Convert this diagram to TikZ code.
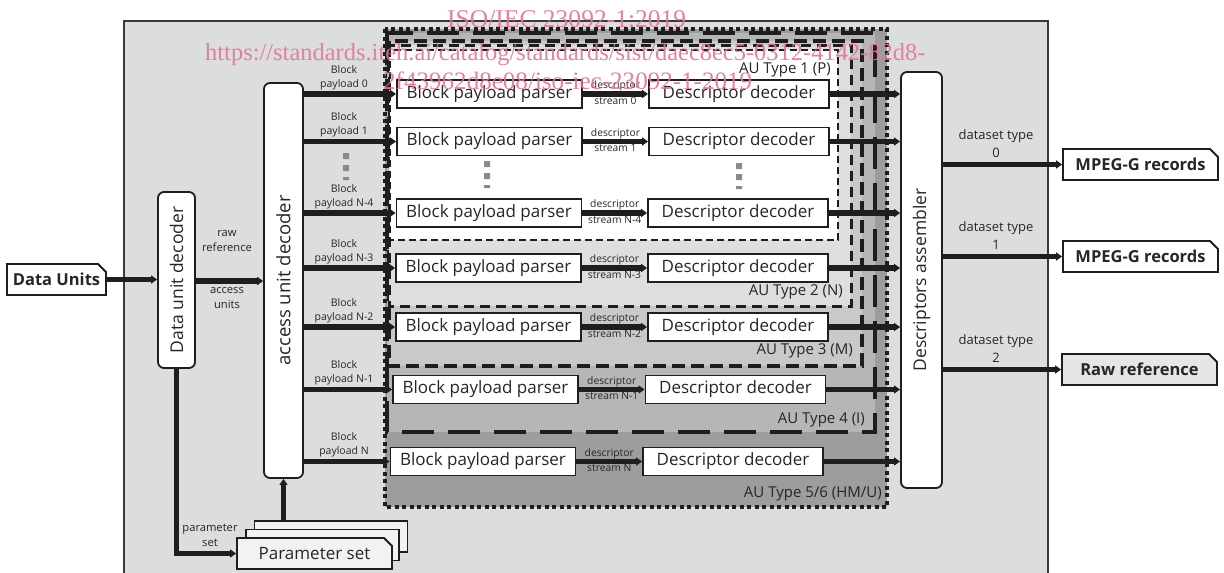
\documentclass[tikz,border=0pt]{standalone}
\usepackage{fontspec}
\setsansfont{Open Sans}
\newfontfamily\wmfont{Liberation Serif}
\usetikzlibrary{arrows.meta,shapes.misc,calc}
\definecolor{bg}{HTML}{DCDDDF}
\definecolor{frame}{HTML}{3A3A3A}
\definecolor{g56}{HTML}{9D9D9D}
\definecolor{g4}{HTML}{B6B6B6}
\definecolor{g3}{HTML}{C9C9C9}
\definecolor{g2}{HTML}{DEDEDE}
\definecolor{dotg}{HTML}{8A8A8A}
\definecolor{ink}{HTML}{1E1E1E}
\definecolor{txt}{HTML}{262626}
\definecolor{wm}{HTML}{E37594}
\definecolor{psfill}{HTML}{F2F2F2}
\definecolor{rawfill}{HTML}{E6E6E6}
\begin{document}
\begin{tikzpicture}[x=1pt,y=-1pt,
  every node/.style={font=\sffamily, text=txt},
  blk/.style={draw=ink, line width=1.8pt, fill=white, minimum height=28pt, inner sep=0pt,
    font=\sffamily\fontsize{17}{20}\selectfont},
  vbox/.style={draw=ink, line width=1.8pt, fill=white, rounded corners=6pt, inner sep=0pt},
  vtxt/.style={rotate=90, inner sep=0pt, font=\sffamily\fontsize{17.5}{20}\selectfont},
  docbox/.style={chamfered rectangle, chamfered rectangle corners=north east,
    chamfered rectangle xsep=4pt, chamfered rectangle ysep=4pt,
    draw=ink, line width=1.8pt, inner sep=0pt, minimum height=31pt},
  bigbold/.style={font=\sffamily\bfseries\fontsize{16.5}{20}\selectfont},
  fat/.style={draw=ink, line width=5.5pt, -{Triangle[length=6pt,width=8pt]}},
  bpl/.style={align=center, inner sep=0.5pt, font=\sffamily\fontsize{10.5}{14}\selectfont},
  dsl/.style={inner sep=0pt, font=\sffamily\fontsize{10.3}{12}\selectfont},
  midl/.style={align=center, inner sep=0pt, font=\sffamily\fontsize{11.2}{15}\selectfont},
  dtl/.style={align=center, inner sep=0pt, font=\sffamily\fontsize{13}{18}\selectfont},
  aul/.style={anchor=east, inner sep=0pt, font=\sffamily\fontsize{15}{18}\selectfont},
  wmt/.style={anchor=base west, inner sep=0pt, text=wm, opacity=0.9},
  r56/.style={fill=g56, draw=ink, line width=4pt, dash pattern=on 4pt off 3.5pt},
  r4/.style={fill=g4, draw=ink, line width=4.5pt, dash pattern=on 32pt off 14pt},
  r3/.style={fill=g3, draw=ink, line width=3.8pt, dash pattern=on 13pt off 6pt},
  r2/.style={fill=g2, draw=ink, line width=3pt, dash pattern=on 10pt off 6pt},
  r1/.style={fill=white, draw=ink, line width=2pt, dash pattern=on 7pt off 4pt},
  gdot/.style={fill=dotg}
]
\useasboundingbox (0,0) rectangle (1224,573);
\fill[white] (0,0) rectangle (1224,573);
\draw[draw=frame, line width=1.6pt, fill=bg] (124,21) rectangle (1048,580);

% nested AU type regions
\draw[r56] (385,29) rectangle (887,507);
\draw[r4] (387,33) rectangle (875,432);
\draw[r3] (389,41) rectangle (862,366);
\draw[r2] (389,45) rectangle (851,306);
\draw[r1] (390,50) rectangle (838,240);

\node[aul] (l1) at (831,70) {AU Type 1 (P)};
\node[aul] (l2) at (843,292) {AU Type 2 (N)};
\node[aul] (l3) at (853,351) {AU Type 3 (M)};
\node[aul] (l4) at (865,420) {AU Type 4 (I)};
\node[aul] (l5) at (882,494) {AU Type 5/6 (HM/U)};

% main blocks
\node[docbox, fill=white, minimum width=99pt, bigbold] (du) at (56.5,279.5) {Data Units};
\node[vbox, minimum width=37pt, minimum height=176pt] (dud) at (176.5,280) {};
\node[vtxt] (dudt) at (dud.center) {Data unit decoder};
\node[vbox, minimum width=39pt, minimum height=395pt] (aud) at (283.5,280.5) {};
\node[vtxt, font=\sffamily\fontsize{18.5}{20}\selectfont] (audt) at (aud.center) {access unit decoder};
\node[vbox, minimum width=41pt, minimum height=416pt] (asm) at (921.5,280) {};
\node[vtxt] (asmt) at (asm.center) {Descriptors assembler};

\node[docbox, fill=white, minimum width=155pt, bigbold] (mp1) at (1140.5,164.5) {MPEG-G records};
\node[docbox, fill=white, minimum width=155pt, bigbold] (mp2) at (1140.5,256.5) {MPEG-G records};
\node[docbox, fill=rawfill, minimum width=155pt, bigbold] (raw) at (1139.5,369.5) {Raw reference};

% parameter set stack
\node[docbox, fill=psfill, minimum width=153pt] (ps3) at (331,536.5) {};
\node[docbox, fill=psfill, minimum width=153pt] (ps2) at (322.5,545) {};
\node[docbox, fill=psfill, minimum width=155pt, font=\sffamily\fontsize{17}{20}\selectfont] (ps1) at (314.5,553.5) {Parameter set};

% rows
\foreach \i/\y/\bx/\dx/\lab in {0/94/489.5/739/0, 1/141.5/489.5/739/1, 2/213/489/738/N-4,
    3/268/488.5/738/N-3, 4/327/488.5/738/N-2, 5/389.5/485.5/735.5/N-1, 6/461.5/483/733/N}{
  \node[blk, minimum width=185pt] (bpp\i) at (\bx,\y) {Block payload parser};
  \node[blk, minimum width=180pt] (dd\i) at (\dx,\y) {Descriptor decoder};
  \draw[fat] (aud.east |- bpp\i.west) -- (bpp\i.west);
  \draw[fat] (bpp\i.east) -- (dd\i.west);
  \draw[fat] (dd\i.east) -- (dd\i.east -| asm.west);
  \node[bpl, anchor=south] (bl\i) at (344,\y-3.5) {Block\\payload \lab};
  \coordinate (m\i) at ($(bpp\i.east)!0.5!(dd\i.west)$);
  \node[dsl, anchor=south] (dsa\i) at ($(m\i)+(0,-2.5)$) {descriptor};
  \node[dsl, anchor=north] (dsb\i) at ($(m\i)+(0,2.5)$) {stream \lab};
}

% continuation dots
\fill[gdot] (343,153) rectangle (349,159) (343,165) rectangle (349,171) (343,177) rectangle (349,180);
\fill[gdot] (484,161) rectangle (490,167) (484,173) rectangle (490,179) (484,185) rectangle (490,188);
\fill[gdot] (736,163) rectangle (742,169) (736,174) rectangle (742,180) (736,186) rectangle (742,189);

% left connectors
\draw[fat] (du.east) -- (du.east -| dud.west);
\draw[fat] (dud.east |- 0,281) -- (aud.west |- 0,281);
\node[midl] (rawref) at (227,241) {raw\\reference};
\node[midl] (accu) at (227,298) {access\\units};
\draw[fat] (dud.south) |- (ps1.west);
\node[midl] (psl) at (210,535.5) {parameter\\set};
\draw[fat] (aud.south |- ps3.north) -- (aud.south);

% right connectors
\draw[fat] (asm.east |- mp1.west) -- (mp1.west);
\draw[fat] (asm.east |- mp2.west) -- (mp2.west);
\draw[fat] (asm.east |- raw.west) -- (raw.west);
\node[dtl] (dt0) at (996,144) {dataset type\\0};
\node[dtl] (dt1) at (996,236) {dataset type\\1};
\node[dtl] (dt2) at (996,349) {dataset type\\2};

% watermark
\node[wmt] (wm1) at (447,27) {\resizebox{239pt}{!}{\wmfont ISO/IEC 23092-1:2019}};
\node[wmt] (wm2) at (205,60) {\resizebox{720pt}{!}{\wmfont https://standards.iteh.ai/catalog/standards/sist/daec8ec5-0312-4142-82d8-}};
\node[wmt] (wm3) at (383,89) {\resizebox{369pt}{!}{\wmfont 2f43962d8e08/iso-iec-23092-1-2019}};
\end{tikzpicture}
\end{document}
